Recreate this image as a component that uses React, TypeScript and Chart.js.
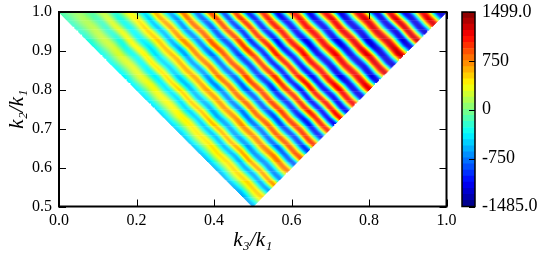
import React, { useEffect, useRef } from "react";
import Chart from "chart.js/auto";

// Stripes run along k2 + k3 = const. Each crest is read where it meets the top edge (k2 = 1)
// and where the same crest meets the right edge (k2 = k3).
const crestK3 = [0, .049, .083, .111, .142, .183, .217, .248, .286, .317, .356, .390, .423, .454, .488, .524, .563, .604, .645, .686, .725, .772, .818, .852, .893, .937, .983, 1];
const crestTopValue = [-60, 40, -30, 140, -180, 340, -400, 560, -580, 740, -760, 860, -880, 920, -980, 1020, -1080, 1080, -1130, 1130, -1180, 1180, -1180, 1180, -1180, 1130, -1180, -1000];
const crestRightValue = [-620, 520, -650, 680, -740, 800, -860, 900, -960, 1000, -1060, 1060, -1110, 1110, -1160, 1160, -1210, 1210, -1220, 1260, -1260, 1300, -1260, 1300, -1260, 1260, -1260, -1100];
// small waviness of the stripe edges, in k2+k3 units, along the stripe
const rippleShift = [0, 0.0012, 0, -0.0012];

const colorMin = -1485;
const colorMax = 1499;
const colorbarTicks = [-1485, -750, 0, 750, 1499];
const xTicks = [0, 0.2, 0.4, 0.6, 0.8, 1];
const yTicks = [0.5, 0.6, 0.7, 0.8, 0.9, 1];
const GRID = 400;
const BANDS = 32;
const SERIF = "'Liberation Serif', serif";

const clip = (v: number) => Math.max(0, Math.min(1, v));
function jet(v: number) {
  const r = clip(Math.min(4 * v - 1.5, -4 * v + 4.5));
  const g = clip(Math.min(4 * v - 0.5, -4 * v + 3.5));
  const b = clip(Math.min(4 * v + 0.5, -4 * v + 2.5));
  return `rgb(${Math.round(r * 255)},${Math.round(g * 255)},${Math.round(b * 255)})`;
}
const valueColor = (val: number) => jet((val - colorMin) / (colorMax - colorMin));

function fieldValue(k3: number, k2: number) {
  const u = (k2 - k3) / 0.025;
  const n = rippleShift.length;
  const pos = ((u % n) + n) % n;
  const i0 = Math.floor(pos);
  const f0 = pos - i0;
  const shift = rippleShift[i0] * (1 - f0) + rippleShift[(i0 + 1) % n] * f0;
  const top = Math.max(0, Math.min(1, k2 + k3 - 1 + shift));
  let i = 0;
  while (i < crestK3.length - 2 && crestK3[i + 1] < top) i++;
  const f = (top - crestK3[i]) / (crestK3[i + 1] - crestK3[i]);
  const e = (1 - Math.cos(Math.PI * f)) / 2;
  const s = k2 + k3;
  const t = Math.pow(clip((k3 - s + 1) / Math.max(1e-6, 1 - s / 2)), 0.5);
  const a = crestTopValue[i] * (1 - t) + crestRightValue[i] * t;
  const b = crestTopValue[i + 1] * (1 - t) + crestRightValue[i + 1] * t;
  return a * (1 - e) + b * e;
}

const cells: { x: number; y: number }[] = [];
const cellColors: string[] = [];
for (let i = 0; i < GRID; i++) {
  for (let j = 0; j < GRID / 2; j++) {
    const k3 = (i + 0.5) / GRID;
    const k2 = 0.5 + (j + 0.5) / GRID;
    if (k3 <= k2 && k2 + k3 >= 1) {
      cells.push({ x: k3, y: k2 });
      cellColors.push(valueColor(fieldValue(k3, k2)));
    }
  }
}

const frameAndTicks = {
  id: "frameAndTicks",
  afterDatasetsDraw(chart: any) {
    const { ctx, chartArea: a, scales } = chart;
    ctx.save();
    ctx.strokeStyle = "#000";
    ctx.lineWidth = 1;
    ctx.beginPath();
    const len = 7;
    for (const v of xTicks) {
      const x = Math.round(scales.x.getPixelForValue(v)) + 0.5;
      ctx.moveTo(x, a.top);
      ctx.lineTo(x, a.top + len);
      ctx.moveTo(x, a.bottom);
      ctx.lineTo(x, a.bottom - len);
    }
    for (const v of yTicks) {
      const y = Math.round(scales.y.getPixelForValue(v)) + 0.5;
      ctx.moveTo(a.left, y);
      ctx.lineTo(a.left + len, y);
      ctx.moveTo(a.right, y);
      ctx.lineTo(a.right - len, y);
    }
    ctx.stroke();
    ctx.lineWidth = 2;
    ctx.strokeRect(a.left, a.top, a.right - a.left, a.bottom - a.top);
    ctx.restore();
  },
};

const barFrame = {
  id: "barFrame",
  afterDatasetsDraw(chart: any) {
    const { ctx, chartArea: a, scales } = chart;
    ctx.save();
    ctx.strokeStyle = "#000";
    ctx.lineWidth = 1;
    ctx.beginPath();
    for (const v of colorbarTicks) {
      const y = Math.round(scales.y.getPixelForValue(v)) + 0.5;
      ctx.moveTo(a.right, y);
      ctx.lineTo(a.right - 6, y);
    }
    ctx.stroke();
    ctx.lineWidth = 1.5;
    ctx.strokeRect(a.left, a.top, a.right - a.left, a.bottom - a.top);
    ctx.restore();
  },
};

export default function App() {
  const mainRef = useRef<HTMLCanvasElement>(null);
  const barRef = useRef<HTMLCanvasElement>(null);
  useEffect(() => {
    const main = new Chart(mainRef.current!, {
      type: "scatter",
      data: {
        datasets: [
          {
            data: cells,
            pointStyle: "rect",
            pointRadius: 0.85,
            pointBorderWidth: 0,
            pointBackgroundColor: cellColors,
            showLine: false,
          } as any,
        ],
      },
      plugins: [frameAndTicks],
      options: {
        animation: false,
        responsive: false,
        events: [],
        parsing: false,
        normalized: true,
        layout: { autoPadding: false, padding: { left: 0, top: 12, right: 98.5, bottom: 0 } },
        plugins: { legend: { display: false }, tooltip: { enabled: false }, title: { display: false } },
        scales: {
          x: {
            type: "linear",
            min: 0,
            max: 1,
            afterFit: (s: any) => { s.height = 49.5; s.paddingLeft = 0; s.paddingRight = 0; },
            afterBuildTicks: (s: any) => { s.ticks = xTicks.map((value) => ({ value })); },
            grid: { display: false, drawTicks: false },
            border: { display: false },
            ticks: { color: "#000", padding: 5, maxRotation: 0, font: { family: SERIF, size: 16 }, callback: (v: any) => Number(v).toFixed(1) },
            title: { display: true, text: "k₃/k₁", color: "#000", padding: { top: 0, bottom: 3 }, font: { family: SERIF, size: 21, style: "italic" } },
          },
          y: {
            type: "linear",
            min: 0.5,
            max: 1,
            afterFit: (s: any) => { s.width = 59; s.paddingTop = 0; s.paddingBottom = 0; },
            afterBuildTicks: (s: any) => { s.ticks = yTicks.map((value) => ({ value })); },
            grid: { display: false, drawTicks: false },
            border: { display: false },
            ticks: { color: "#000", padding: 7, font: { family: SERIF, size: 16 }, callback: (v: any) => Number(v).toFixed(1) },
            title: { display: true, text: "k₂/k₁", color: "#000", padding: { top: 5, bottom: 0 }, font: { family: SERIF, size: 21, style: "italic" } },
          },
        },
      } as any,
    });

    const bandStep = (colorMax - colorMin) / BANDS;
    const bar = new Chart(barRef.current!, {
      type: "bar",
      data: {
        labels: [""],
        datasets: Array.from({ length: BANDS }, (_, i) => ({
          data: [[colorMin + i * bandStep, colorMin + (i + 1) * bandStep]],
          backgroundColor: valueColor(colorMin + (i + 0.5) * bandStep),
          borderWidth: 0,
          grouped: false,
          barPercentage: 1,
          categoryPercentage: 1,
        })) as any,
      },
      plugins: [barFrame],
      options: {
        animation: false,
        responsive: false,
        events: [],
        layout: { autoPadding: false, padding: { left: 7, top: 12, right: 0, bottom: 49.5 } },
        plugins: { legend: { display: false }, tooltip: { enabled: false } },
        scales: {
          x: { display: false },
          y: {
            type: "linear",
            position: "right",
            min: colorMin,
            max: colorMax,
            afterFit: (s: any) => { s.width = 70; s.paddingTop = 0; s.paddingBottom = 0; },
            afterBuildTicks: (s: any) => { s.ticks = colorbarTicks.map((value) => ({ value })); },
            grid: { display: false, drawTicks: false },
            border: { display: false },
            ticks: {
              color: "#000",
              padding: 7,
              font: { family: SERIF, size: 18 },
              callback: (v: any) => (v === colorMin || v === colorMax ? Number(v).toFixed(1) : String(v)),
            },
          },
        },
      } as any,
    });
    return () => {
      main.destroy();
      bar.destroy();
    };
  }, []);
  return (
    <div style={{ position: "absolute", left: 0, top: 0, width: 545, height: 256, background: "#fff", overflow: "hidden" }}>
      <canvas ref={mainRef} width={545} height={256} style={{ position: "absolute", left: 0, top: 0 }} />
      <canvas ref={barRef} width={90} height={256} style={{ position: "absolute", left: 455, top: 0 }} />
    </div>
  );
}
